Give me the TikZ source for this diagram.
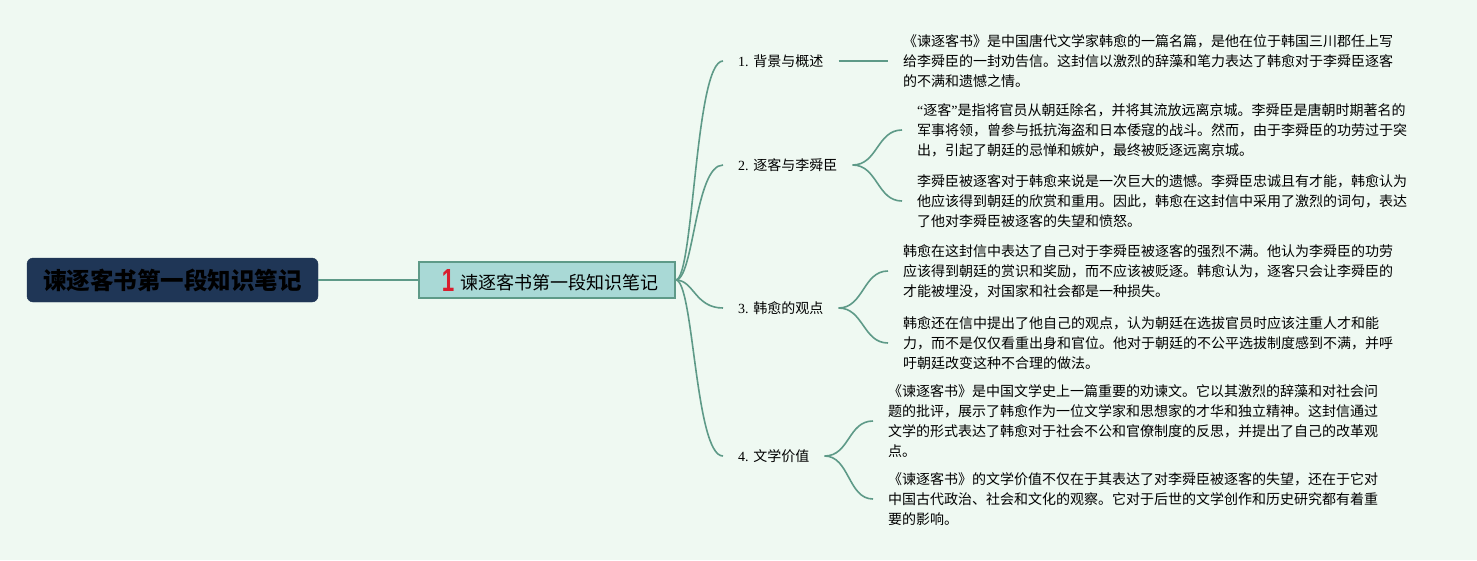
\documentclass[tikz,border=0pt]{standalone}
\usepackage{xcolor}
\usepackage{tikz}
\usepackage{fontspec}
\usetikzlibrary{shapes,arrows,positioning,calc}
\setmainfont{Liberation Serif}
\setsansfont{Liberation Sans}
\newfontfamily\cjk{Noto Sans CJK SC}
\definecolor{bgmint}{RGB}{239,249,242}
\definecolor{branchgreen}{RGB}{94,154,136}
\definecolor{topicfill}{RGB}{169,217,214}
\definecolor{rootblue}{RGB}{31,54,86}
\definecolor{numred}{RGB}{217,30,46}
\tikzset{
  branch/.style={draw=branchgreen, line width=1.6pt},
  label/.style={font=\fontsize{14}{20}\selectfont, inner xsep=15pt, inner ysep=2pt, anchor=west},
  leaf/.style={font=\fontsize{14}{20}\selectfont\cjk, inner xsep=15pt, inner ysep=2pt, anchor=west, align=left, text width=505pt}
}

\begin{document}
\begin{tikzpicture}[x=1pt, y=-1pt]
\fill[bgmint] (0,0) rectangle (1477,560);
\useasboundingbox (0,0) rectangle (1477,560);

\node[draw=rootblue, fill=rootblue, rounded corners=6pt, minimum width=291pt, minimum height=44pt,
  font=\fontsize{23.5}{26}\selectfont\cjk\bfseries, text=black] (root) at (172.5,280) {谏逐客书第一段知识笔记};
\node[draw=branchgreen, fill=topicfill, line width=1.5pt, minimum width=256pt, minimum height=36pt,
  font=\fontsize{18}{20}\selectfont] (topic) at (547,280)
  {\hspace{6pt}\raisebox{-2pt}{\scalebox{0.7}[1]{\color{numred}\sffamily\bfseries\fontsize{32}{32}\selectfont 1}}\hspace{6pt}{\cjk 谏逐客书第一段知识笔记}};
\draw[branch] (root.east) -- (topic.west);

% main branches
\node[label] (b1) at (723,61) {1. {\cjk 背景与概述}};
\node[label] (b2) at (723,165) {2. {\cjk 逐客与李舜臣}};
\node[label] (b3) at (723,308) {3. {\cjk 韩愈的观点}};
\node[label] (b4) at (723,456) {4. {\cjk 文学价值}};
\foreach \b in {b1,b2,b3,b4}
  \draw[branch] (topic.east) .. controls +(18,0) and +(-28,0) .. (\b.west);

% leaves
\node[leaf] (l1) at (888,61) {《谏逐客书》是中国唐代文学家韩愈的一篇名篇，是他在位于韩国三川郡任上写\\
给李舜臣的一封劝告信。这封信以激烈的辞藻和笔力表达了韩愈对于李舜臣逐客\\
的不满和遗憾之情。};
\node[leaf] (l2a) at (902,130) {{\rmfamily “}逐客{\rmfamily ”}是指将官员从朝廷除名，并将其流放远离京城。李舜臣是唐朝时期著名的\\
军事将领，曾参与抵抗海盗和日本倭寇的战斗。然而，由于李舜臣的功劳过于突\\
出，引起了朝廷的忌惮和嫉妒，最终被贬逐远离京城。};
\node[leaf] (l2b) at (902,201) {李舜臣被逐客对于韩愈来说是一次巨大的遗憾。李舜臣忠诚且有才能，韩愈认为\\
他应该得到朝廷的欣赏和重用。因此，韩愈在这封信中采用了激烈的词句，表达\\
了他对李舜臣被逐客的失望和愤怒。};
\node[leaf] (l3a) at (888,271) {韩愈在这封信中表达了自己对于李舜臣被逐客的强烈不满。他认为李舜臣的功劳\\
应该得到朝廷的赏识和奖励，而不应该被贬逐。韩愈认为，逐客只会让李舜臣的\\
才能被埋没，对国家和社会都是一种损失。};
\node[leaf] (l3b) at (888,343) {韩愈还在信中提出了他自己的观点，认为朝廷在选拔官员时应该注重人才和能\\
力，而不是仅仅看重出身和官位。他对于朝廷的不公平选拔制度感到不满，并呼\\
吁朝廷改变这种不合理的做法。};
\node[leaf] (l4a) at (873,421) {《谏逐客书》是中国文学史上一篇重要的劝谏文。它以其激烈的辞藻和对社会问\\
题的批评，展示了韩愈作为一位文学家和思想家的才华和独立精神。这封信通过\\
文学的形式表达了韩愈对于社会不公和官僚制度的反思，并提出了自己的改革观\\
点。};
\node[leaf] (l4b) at (873,499) {《谏逐客书》的文学价值不仅在于其表达了对李舜臣被逐客的失望，还在于它对\\
中国古代政治、社会和文化的观察。它对于后世的文学创作和历史研究都有着重\\
要的影响。};

\draw[branch] (b1.east) -- (l1.west);
\foreach \b/\l in {b2/l2a,b2/l2b,b3/l3a,b3/l3b,b4/l4a,b4/l4b}
  \draw[branch] (\b.east) .. controls +(25,0) and +(-25,0) .. (\l.west);
\end{tikzpicture}
\end{document}
